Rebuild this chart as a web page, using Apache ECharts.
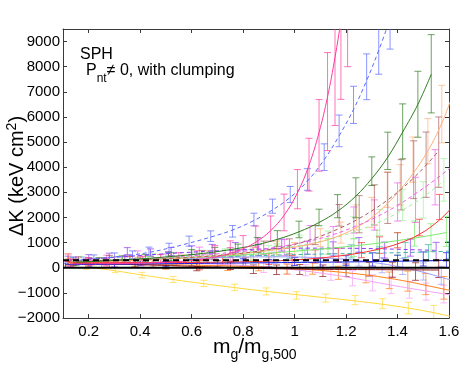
<!DOCTYPE html>
<html><head><meta charset="utf-8">
<script src="https://cdn.jsdelivr.net/npm/echarts@6/dist/echarts.min.js"></script>
<style>html,body{margin:0;padding:0;background:#fff}#c{width:463px;height:366px}</style>
</head><body><div id="c"></div>
<script>
const xTicks = [0.2, 0.4, 0.6, 0.8, 1.0, 1.2, 1.4, 1.6];
const yTicks = [-2000, -1000, 0, 1000, 2000, 3000, 4000, 5000, 6000, 7000, 8000, 9000];
const refLevels = [0, 300];

// yellow (solid, falling)
const yellowX   = [0.19, 0.303, 0.407, 0.528, 0.647, 0.767, 0.890, 1.007, 1.121, 1.235, 1.342, 1.442, 1.541, 1.64];
const yellowY   = [30, -95, -293, -465, -624, -783, -942, -1101, -1208, -1288, -1431, -1606, -1765, -2000];
const yellowErr = [90, 100, 110, 120, 125, 130, 140, 150, 160, 180, 200, 230, 265, 300];
const yellowFit = [30, -120, -290, -470, -635, -790, -940, -1070, -1195, -1320, -1455, -1605, -1790, -2010];

// hot pink (solid, steep)
const pinkX   = [0.13, 0.2, 0.27, 0.34, 0.41, 0.48, 0.55, 0.62, 0.69, 0.75, 0.80, 0.849, 0.907, 0.959, 1.011, 1.056, 1.095, 1.128, 1.157, 1.18, 1.206];
const pinkY   = [200, 250, 230, 300, 280, 320, 380, 420, 600, 750, 900, 1240, 1560, 2200, 3126, 4100, 5268, 6612, 7860, 9000, 10300];
const pinkErr = [150, 150, 160, 170, 180, 200, 220, 250, 280, 320, 380, 420, 500, 730, 780, 1050, 1425, 1950, 2200, 2300, 2300];
const pinkFit = [155, 158, 163, 171, 185, 209, 248, 313, 422, 571, 756, 1018, 1475, 2086, 2980, 4081, 5380, 6800, 8370, 9850, 11890];

// blue (dashed, steep)
const blueX   = [0.14, 0.22, 0.3, 0.37, 0.434, 0.512, 0.59, 0.674, 0.759, 0.842, 0.914, 0.983, 1.05, 1.115, 1.173, 1.229, 1.28, 1.327, 1.371];
const blueY   = [300, 380, 450, 520, 660, 795, 1058, 1257, 1450, 1920, 2450, 2914, 3511, 4400, 5447, 6481, 7599, 8700, 9800];
const blueErr = [120, 130, 140, 150, 160, 180, 200, 210, 230, 250, 280, 320, 430, 530, 630, 740, 910, 1000, 1100];
const blueFit = [280, 350, 430, 510, 610, 780, 980, 1220, 1500, 1880, 2300, 2800, 3450, 4300, 5250, 6300, 7450, 8650, 9900];

// dark green (solid)
const greenX   = [0.15, 0.24, 0.33, 0.42, 0.51, 0.6, 0.69, 0.78, 0.855, 0.933, 1.017, 1.095, 1.167, 1.238, 1.300, 1.362, 1.420, 1.479, 1.531];
const greenY   = [220, 270, 320, 380, 450, 530, 600, 700, 906, 1165, 1523, 2000, 2450, 2783, 3841, 4652, 5427, 6505, 7718];
const greenErr = [120, 130, 140, 150, 170, 190, 210, 240, 300, 310, 330, 330, 460, 795, 570, 742, 1093, 1312, 1557];
const greenFit = [220, 260, 310, 365, 440, 520, 630, 770, 920, 1130, 1430, 1800, 2250, 2850, 3550, 4400, 5400, 6500, 7700];

// peach (solid)
const peachX   = [0.12, 0.21, 0.3, 0.39, 0.48, 0.57, 0.66, 0.75, 0.84, 0.93, 1.0, 1.1, 1.18, 1.24, 1.30, 1.36, 1.41, 1.46, 1.518, 1.572, 1.615];
const peachY   = [250, 200, 300, 260, 380, 350, 500, 600, 560, 800, 700, 1200, 1400, 2000, 2200, 3100, 3300, 4300, 5035, 6115, 7300];
const peachErr = [120, 120, 130, 140, 150, 160, 180, 200, 230, 260, 300, 350, 420, 500, 600, 700, 800, 900, 900, 1145, 1300];
const peachFit = [200, 230, 260, 295, 335, 385, 445, 520, 610, 720, 820, 1030, 1300, 1600, 2000, 2550, 3100, 3750, 4650, 5750, 6900];

// rosy brown (dashed)
const brownX   = [0.16, 0.28, 0.4, 0.52, 0.64, 0.76, 0.88, 0.98, 1.08, 1.173, 1.251, 1.31, 1.362, 1.414, 1.463, 1.511, 1.56];
const brownY   = [300, 350, 280, 420, 500, 480, 800, 850, 1300, 2087, 2130, 2500, 2783, 3300, 3900, 4100, 4600];
const brownErr = [130, 140, 150, 170, 190, 220, 260, 300, 380, 430, 740, 800, 1020, 1000, 1150, 1300, 1400];
const brownFit = [280, 300, 330, 375, 440, 540, 690, 880, 1180, 1560, 1960, 2330, 2700, 3120, 3580, 4080, 4650];

// maroon (solid, near zero)
const maroonX   = [0.14, 0.26, 0.38, 0.5, 0.62, 0.751, 0.84, 0.93, 1.02, 1.11, 1.2, 1.29, 1.38, 1.47, 1.56];
const maroonY   = [200, 250, 150, 100, 30, 80, -60, -80, -70, -120, -100, -60, -80, -150, -40];
const maroonErr = [120, 130, 130, 140, 150, 150, 170, 190, 200, 230, 250, 270, 300, 350, 350];
const maroonFit = [180, 160, 130, 90, 50, 10, -20, -40, -55, -65, -70, -75, -80, -85, -90];

// red (solid)
const redX   = [0.12, 0.2, 0.28, 0.36, 0.45, 0.54, 0.63, 0.72, 0.81, 0.9, 0.99, 1.08, 1.17, 1.26, 1.33, 1.40, 1.485, 1.563, 1.62];
const redY   = [400, 250, 150, 300, 180, 250, 100, 300, 200, 350, 250, 450, 500, 700, 900, 1093, 1600, 2417, 2800];
const redErr = [150, 130, 140, 150, 160, 170, 180, 190, 200, 220, 240, 260, 280, 300, 330, 300, 330, 500, 600];
const redFit = [220, 218, 215, 212, 210, 210, 213, 222, 238, 265, 305, 370, 465, 600, 750, 950, 1330, 1900, 2500];

// light green (solid)
const limeX   = [0.13, 0.23, 0.33, 0.43, 0.53, 0.63, 0.73, 0.83, 0.93, 1.03, 1.13, 1.23, 1.32, 1.40, 1.466, 1.53, 1.59];
const limeY   = [300, 250, 350, 300, 450, 400, 550, 500, 700, 600, 850, 800, 1100, 950, 1360, 1200, 1450];
const limeErr = [120, 130, 140, 150, 160, 180, 200, 220, 250, 280, 310, 350, 400, 450, 500, 550, 600];
const limeFit = [250, 280, 310, 340, 380, 420, 470, 530, 600, 680, 770, 870, 970, 1080, 1180, 1290, 1400];

// pale green (dashed)
const paleX   = [0.17, 0.3, 0.45, 0.6, 0.75, 0.9, 1.02, 1.13, 1.23, 1.33, 1.42, 1.5, 1.58];
const paleY   = [320, 300, 420, 430, 600, 650, 1000, 1100, 1600, 1800, 2500, 2700, 3500];
const paleErr = [130, 140, 150, 170, 200, 240, 300, 360, 430, 520, 620, 720, 850];
const paleFit = [300, 330, 380, 450, 550, 700, 880, 1120, 1420, 1820, 2300, 2820, 3450];

// magenta (dashed)
const magX   = [0.15, 0.27, 0.39, 0.51, 0.63, 0.75, 0.86, 0.96, 1.06, 1.15, 1.23, 1.31, 1.40, 1.47, 1.546, 1.62];
const magY   = [300, 350, 500, 450, 600, 550, 900, 800, 1300, 1200, 1900, 2100, 2617, 2700, 3600, 4200];
const magErr = [130, 150, 170, 190, 220, 250, 280, 320, 380, 440, 520, 600, 760, 900, 1100, 1200];
const magFit = [250, 300, 350, 420, 500, 600, 720, 870, 1070, 1320, 1620, 1980, 2480, 2950, 3500, 4100];

// teal (dashed)
const tealX   = [0.2, 0.36, 0.52, 0.68, 0.84, 0.98, 1.1, 1.22, 1.33, 1.43, 1.52, 1.6];
const tealY   = [280, 330, 300, 500, 420, 600, 500, 650, 550, 700, 600, 700];
const tealErr = [120, 140, 160, 180, 200, 220, 240, 260, 280, 300, 320, 340];
const tealFit = [250, 300, 360, 420, 475, 515, 545, 565, 585, 605, 630, 660];

// dark blue (solid)
const navyX   = [0.11, 0.2, 0.3, 0.4, 0.5, 0.6, 0.7, 0.8, 0.9, 1.0, 1.1, 1.2, 1.303, 1.4, 1.5, 1.59];
const navyY   = [100, 150, 120, 180, 150, 200, 160, 220, 180, 250, 200, 280, 330, 250, 350, 300];
const navyErr = [80, 90, 100, 100, 110, 120, 130, 140, 150, 160, 180, 200, 265, 250, 280, 300];
const navyFit = [120, 130, 140, 150, 160, 170, 180, 190, 200, 210, 220, 230, 245, 260, 275, 290];

// orange (solid, falling)
const orangeX   = [0.12, 0.25, 0.38, 0.5, 0.62, 0.74, 0.86, 0.97, 1.07, 1.17, 1.277, 1.368, 1.44, 1.51, 1.58, 1.63];
const orangeY   = [200, 100, 180, 80, 150, 50, 60, -50, -30, -200, -300, -500, -533, -650, -800, -900];
const orangeErr = [100, 110, 120, 130, 140, 160, 180, 200, 230, 260, 300, 330, 400, 420, 450, 450];
const orangeFit = [150, 140, 130, 118, 100, 72, 32, -18, -82, -168, -285, -420, -550, -700, -850, -960];

// plum (solid, falling)
const plumX   = [0.15, 0.3, 0.45, 0.6, 0.75, 0.88, 0.972, 1.043, 1.141, 1.225, 1.303, 1.375, 1.446, 1.511, 1.58, 1.63];
const plumY   = [250, 180, 230, 150, 100, 0, -60, -100, -250, -420, -600, -700, -880, -950, -1050, -1150];
const plumErr = [110, 120, 130, 150, 170, 190, 200, 220, 250, 300, 320, 330, 330, 340, 350, 350];
const plumFit = [210, 210, 200, 175, 120, 35, -50, -130, -270, -410, -555, -690, -815, -925, -1040, -1120];

// lavender (solid)
const lavX   = [0.18, 0.34, 0.5, 0.66, 0.8, 0.92, 1.04, 1.15, 1.25, 1.34, 1.42, 1.5, 1.57, 1.63];
const lavY   = [300, 280, 400, 380, 500, 400, 500, 300, 350, 100, 50, -150, -300, -500];
const lavErr = [120, 140, 160, 180, 200, 220, 240, 260, 280, 300, 320, 340, 360, 380];
const lavFit = [250, 300, 350, 395, 425, 435, 420, 370, 285, 160, 10, -180, -380, -560];

// purple (dashed)
const purpX   = [0.12, 0.2, 0.28, 0.35, 0.44, 0.52, 0.6, 0.68, 0.77, 0.86, 0.95, 1.05, 1.15, 1.25, 1.35, 1.45, 1.55];
const purpY   = [350, 400, 450, 660, 600, 650, 700, 750, 800, 700, 900, 800, 750, 900, 700, 800, 650];
const purpErr = [110, 120, 130, 140, 150, 160, 170, 180, 200, 220, 240, 260, 280, 300, 320, 340, 360];
const purpFit = [300, 350, 400, 450, 515, 570, 620, 665, 705, 740, 765, 780, 780, 770, 750, 720, 690];

const sets = [
  {x: paleX,   y: paleY,   e: paleErr,   f: paleFit,   c: '#9CF29C', dash: true},
  {x: tealX,   y: tealY,   e: tealErr,   f: tealFit,   c: '#3AAFA9', dash: true},
  {x: lavX,    y: lavY,    e: lavErr,    f: lavFit,    c: '#9A9CFF', dash: false},
  {x: plumX,   y: plumY,   e: plumErr,   f: plumFit,   c: '#F5A0F5', dash: false},
  {x: purpX,   y: purpY,   e: purpErr,   f: purpFit,   c: '#8A3AF0', dash: true},
  {x: limeX,   y: limeY,   e: limeErr,   f: limeFit,   c: '#7CEB6C', dash: false},
  {x: peachX,  y: peachY,  e: peachErr,  f: peachFit,  c: '#FFB07A', dash: false},
  {x: magX,    y: magY,    e: magErr,    f: magFit,    c: '#F060F0', dash: true},
  {x: brownX,  y: brownY,  e: brownErr,  f: brownFit,  c: '#A85E5E', dash: true},
  {x: orangeX, y: orangeY, e: orangeErr, f: orangeFit, c: '#FF7F1A', dash: false},
  {x: redX,    y: redY,    e: redErr,    f: redFit,    c: '#FF3030', dash: false},
  {x: maroonX, y: maroonY, e: maroonErr, f: maroonFit, c: '#8B1A1A', dash: false},
  {x: navyX,   y: navyY,   e: navyErr,   f: navyFit,   c: '#1A1AE0', dash: false},
  {x: greenX,  y: greenY,  e: greenErr,  f: greenFit,  c: '#2E7D1E', dash: false},
  {x: blueX,   y: blueY,   e: blueErr,   f: blueFit,   c: '#5A6AFF', dash: true},
  {x: pinkX,   y: pinkY,   e: pinkErr,   f: pinkFit,   c: '#FF3AA0', dash: false},
  {x: yellowX, y: yellowY, e: yellowErr, f: yellowFit, c: '#FFD83A', dash: false}
];

const FONT = '"Liberation Sans", Arial, Helvetica, sans-serif';
const series = [];
sets.forEach((s) => {
  series.push({
    type: 'custom', clip: true, silent: true, z: 2,
    data: s.x.map((x, i) => [x, s.y[i] - s.e[i], s.y[i] + s.e[i]]),
    encode: {x: 0, y: [1, 2]},
    renderItem: (params, api) => {
      const lo = api.coord([api.value(0), api.value(1)]);
      const hi = api.coord([api.value(0), api.value(2)]);
      const w = 3.5;
      const st = {stroke: s.c, lineWidth: 1, opacity: 0.7};
      return {type: 'group', children: [
        {type: 'line', shape: {x1: lo[0], y1: lo[1], x2: hi[0], y2: hi[1]}, style: st},
        {type: 'line', shape: {x1: lo[0] - w, y1: lo[1], x2: lo[0] + w, y2: lo[1]}, style: st},
        {type: 'line', shape: {x1: hi[0] - w, y1: hi[1], x2: hi[0] + w, y2: hi[1]}, style: st}
      ]};
    }
  });
  series.push({
    type: 'line', silent: true, z: 3, smooth: 0.4,
    symbol: 'none', showSymbol: false, clip: true,
    data: s.x.map((x, i) => [x, s.f[i]]),
    lineStyle: {color: s.c, width: 1, type: s.dash ? [4, 3] : 'solid'}
  });
});
series.push({
  type: 'line', silent: true, z: 10, symbol: 'none', clip: true,
  data: [[0.1, refLevels[1]], [1.6, refLevels[1]]],
  lineStyle: {color: '#000', width: 2, type: [6, 4]}
});
series.push({
  type: 'line', silent: true, z: 10, symbol: 'none', clip: true,
  data: [[0.1, refLevels[0]], [1.6, refLevels[0]]],
  lineStyle: {color: '#000', width: 2}
});

const axisCol = '#3a3a3a';
const fmt = v => (v < 0 ? '\u2212' + Math.abs(v) : String(v));
function xAx(pos, labels) {
  return {type: 'value', min: 0.1, max: 1.6, position: pos,
    axisLine: {show: true, onZero: false, lineStyle: {color: axisCol, width: 1}},
    axisTick: {show: true, inside: true, length: 4, customValues: xTicks, lineStyle: {color: axisCol}},
    axisLabel: {show: labels, customValues: xTicks, fontSize: 15, color: '#000', fontFamily: FONT, margin: 6, formatter: v => String(v)},
    splitLine: {show: false}};
}
function yAx(pos, labels) {
  return {type: 'value', min: -2000, max: 9500, position: pos,
    axisLine: {show: true, onZero: false, lineStyle: {color: axisCol, width: 1}},
    axisTick: {show: true, inside: true, length: 4, customValues: yTicks, lineStyle: {color: axisCol}},
    axisLabel: {show: labels, customValues: yTicks, fontSize: 15, color: '#000', fontFamily: FONT, margin: 3, formatter: fmt},
    splitLine: {show: false}};
}

const cv = document.createElement('canvas').getContext('2d');
function tw(str, fs) { cv.font = fs + 'px ' + FONT; return cv.measureText(str).width; }
function seg(str, x, base, fs) {
  return {type: 'text', x: x, y: base - 0.35 * fs, z: 20,
    style: {text: str, fontSize: fs, fontFamily: FONT, fill: '#000', align: 'left', verticalAlign: 'middle'}};
}
function chain(parts, x0) {
  const out = []; let x = x0;
  parts.forEach(p => { out.push(seg(p[0], x, p[2], p[1])); x += tw(p[0], p[1]); });
  return out;
}

const xTitle = chain([['m', 21, 355], ['g', 14, 360], ['/', 21, 355], ['m', 21, 355], ['g,500', 14, 360]], 213);
const yTitleParts = chain([['\u0394K (keV cm', 20, 0], ['2', 14, -7], [')', 20, 0]], 0);
const note = [seg('SPH', 80, 60, 16)].concat(chain([['P', 16, 76], ['nt', 12, 83], ['\u2260 0, with clumping', 16, 76]], 86));

const chart = echarts.init(document.getElementById('c'), null, {renderer: 'canvas'});
chart.setOption({
  animation: false,
  backgroundColor: '#fff',
  grid: {left: 63, right: 14, top: 29, bottom: 48},
  xAxis: [xAx('bottom', true), xAx('top', false)],
  yAxis: [yAx('left', true), yAx('right', false)],
  series: series,
  graphic: [
    ...xTitle,
    ...note,
    {type: 'group', x: 24, y: 236, rotation: Math.PI / 2, children: yTitleParts}
  ]
});
</script></body></html>
